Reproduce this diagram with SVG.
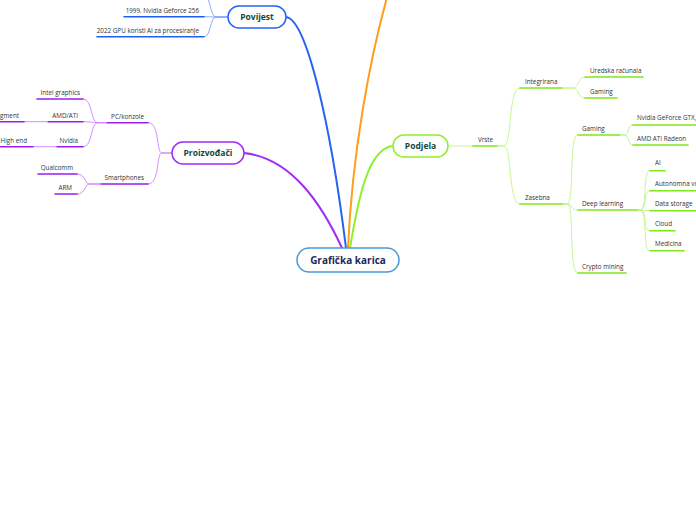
<svg xmlns="http://www.w3.org/2000/svg" width="696" height="520" viewBox="0 0 696 520">
<style>
.bg{fill:#fff}
.node rect{fill:#fff;stroke-width:1.5}
.nt{font-family:"Open Sans","Liberation Sans",sans-serif;font-weight:bold;font-size:8.5px;fill:#15483a;text-anchor:middle}
.ct{font-family:"Open Sans","Liberation Sans",sans-serif;font-weight:bold;font-size:10px;fill:#1c2a5a;text-anchor:middle}
.lt{font-family:"Open Sans","Liberation Sans",sans-serif;font-size:6.3px;fill:#333}
.e{text-anchor:end}
.ul{fill:none;stroke-width:1.6;stroke-linecap:round}
.cv{fill:none;stroke-width:0.9}
.blue .ul{stroke:#1f5ff5}.blue .cv{stroke:#7aa2ff}
.pur .ul{stroke:#9a1ef2}.pur .cv{stroke:#c985ff}
.grn .ul{stroke:#7fe81a}.grn .cv{stroke:#bdf58a}
.main{fill:none;stroke-width:2;stroke-linecap:round}
</style>
<rect class="bg" width="696" height="520"/>
<g id="connectors">
  <path class="main" stroke="#a02bf5" d="M244,153 C292,158 322,205 342,248"/>
  <path class="main" stroke="#2563f5" d="M286,17 C306,19 330,120 346,248"/>
  <path class="main" stroke="#ff9d1f" d="M348,248 C352,160 368,60 392,-20"/>
  <path class="main" stroke="#8ef02a" d="M350,248 C358,200 368,148 393,146"/>
  <g class="blue">
    <path class="cv" d="M228,17 L216,17 C210,17 211,-4 204,-4"/>
    <path class="cv" d="M228,17 L216,17 C211,17 211,16.7 204,16.7"/>
    <path class="cv" d="M228,17 L216,17 C210,17 211,36.7 204,36.7"/>
    <path class="ul" d="M124,16.7 H204"/>
    <path class="ul" d="M97,36.7 H204"/>
  </g>
  <g class="pur">
    <path class="cv" d="M172,153 L162,153 C156,153 160,122.7 148,122.7"/>
    <path class="cv" d="M172,153 L162,153 C156,153 160,184 148,184"/>
    <path class="ul" d="M107,122.7 H148"/>
    <path class="ul" d="M101,184 H148"/>
    <path class="cv" d="M107,122.7 L98,122.7 C90,122.7 93,99 83,99"/>
    <path class="cv" d="M107,122.7 L98,122.7 C92,122.7 92,121.7 83,121.7"/>
    <path class="cv" d="M107,122.7 L98,122.7 C90,122.7 93,146.7 83,146.7"/>
    <path class="cv" d="M101,184 L90,184 C84,184 86,174 77,174"/>
    <path class="cv" d="M101,184 L90,184 C84,184 86,194 77,194"/>
    <path class="ul" d="M37,99 H83"/>
    <path class="ul" d="M48,121.7 H83"/>
    <path class="ul" d="M57,146.7 H83"/>
    <path class="ul" d="M38,174 H77"/>
    <path class="ul" d="M55,194 H77"/>
    <path class="cv" d="M48,121.7 H24"/>
    <path class="ul" d="M-2,121.7 H24"/>
    <path class="cv" d="M57,146.7 H33"/>
    <path class="ul" d="M-2,146.7 H33"/>
  </g>
  <g class="grn">
    <path class="cv" d="M448,146 H473"/>
    <path class="ul" d="M473,146 H497"/>
    <path class="cv" d="M497,146 L504,146 C512,146 508,88 520,88"/>
    <path class="cv" d="M497,146 L504,146 C512,146 508,204 520,204"/>
    <path class="ul" d="M520,88 H562"/>
    <path class="ul" d="M520,204 H563"/>
    <path class="cv" d="M562,88 L572,88 C580,88 577,77 585,77"/>
    <path class="cv" d="M562,88 L572,88 C580,88 577,98 585,98"/>
    <path class="ul" d="M585,77 H643"/>
    <path class="ul" d="M585,98 H617"/>
    <path class="cv" d="M563,204 L567,204 C575,204 568,135 578,135"/>
    <path class="cv" d="M563,204 L567,204 C573,204 570,210 578,210"/>
    <path class="cv" d="M563,204 L567,204 C575,204 568,273 578,273"/>
    <path class="ul" d="M578,135 H620"/>
    <path class="ul" d="M578,210 H638"/>
    <path class="ul" d="M578,273 H626"/>
    <path class="cv" d="M620,135 L624,135 C630,135 627,125 633,125"/>
    <path class="cv" d="M620,135 L624,135 C630,135 627,145 633,145"/>
    <path class="ul" d="M633,125 H698"/>
    <path class="ul" d="M633,145 H688"/>
    <path class="cv" d="M638,210 L640,210 C648,210 642,170.7 650,170.7"/>
    <path class="cv" d="M638,210 L640,210 C648,210 642,190.7 650,190.7"/>
    <path class="cv" d="M638,210 L650,210.7"/>
    <path class="cv" d="M638,210 L640,210 C648,210 642,230.7 650,230.7"/>
    <path class="cv" d="M638,210 L640,210 C648,210 642,250.7 650,250.7"/>
    <path class="ul" d="M650,170.7 H665"/>
    <path class="ul" d="M650,190.7 H698"/>
    <path class="ul" d="M650,210.7 H698"/>
    <path class="ul" d="M650,230.7 H675"/>
    <path class="ul" d="M650,250.7 H684"/>
  </g>
</g>
<g id="central" class="node"><rect x="297" y="248" width="102" height="24" rx="12" stroke="#4a9ad8"/><text class="ct" x="348" y="264">Grafička karica</text></g>
<g id="povijest" class="node"><rect x="228" y="6" width="58" height="22" rx="11" stroke="#2563f5"/><text class="nt" x="257" y="20">Povijest</text></g>
<g id="proizvodaci" class="node"><rect x="172" y="142" width="72" height="22" rx="11" stroke="#a02bf5"/><text class="nt" x="208" y="156">Proizvođači</text></g>
<g id="podjela" class="node"><rect x="393" y="135" width="55" height="22" rx="11" stroke="#8ef02a"/><text class="nt" x="420.5" y="149">Podjela</text></g>
<g id="leaves">
  <g id="n1999"><text class="lt e" x="199" y="13">1999. Nvidia Geforce 256</text></g>
  <g id="n2022"><text class="lt e" x="199" y="33">2022 GPU koristi AI za procesiranje</text></g>
  <g id="pc"><text class="lt e" x="144" y="119">PC/konzole</text></g>
  <g id="smart"><text class="lt e" x="144" y="180">Smartphones</text></g>
  <g id="intel"><text class="lt e" x="80" y="95">Intel graphics</text></g>
  <g id="amd"><text class="lt e" x="78" y="118">AMD/ATI</text></g>
  <g id="segment"><text class="lt e" x="19" y="118">segment</text></g>
  <g id="nvidia"><text class="lt e" x="78" y="143">Nvidia</text></g>
  <g id="highend"><text class="lt e" x="27" y="143">High end</text></g>
  <g id="qualcomm"><text class="lt e" x="73" y="170">Qualcomm</text></g>
  <g id="arm"><text class="lt e" x="72" y="190">ARM</text></g>
  <g id="vrste"><text class="lt" x="478" y="142">Vrste</text></g>
  <g id="integrirana"><text class="lt" x="525" y="84">Integrirana</text></g>
  <g id="zasebna"><text class="lt" x="525" y="200">Zasebna</text></g>
  <g id="uredska"><text class="lt" x="590" y="73">Uredska računala</text></g>
  <g id="gaming1"><text class="lt" x="590" y="94">Gaming</text></g>
  <g id="gaming2"><text class="lt" x="582" y="131">Gaming</text></g>
  <g id="deep"><text class="lt" x="582" y="206">Deep learning</text></g>
  <g id="crypto"><text class="lt" x="582" y="269">Crypto mining</text></g>
  <g id="gtx"><text class="lt" x="637" y="120">Nvidia GeForce GTX,</text></g>
  <g id="radeon"><text class="lt" x="637" y="141">AMD ATI Radeon</text></g>
  <g id="ai"><text class="lt" x="655" y="165">AI</text></g>
  <g id="auto"><text class="lt" x="655" y="186">Autonomna vozila</text></g>
  <g id="data"><text class="lt" x="655" y="206">Data storage</text></g>
  <g id="cloud"><text class="lt" x="655" y="226">Cloud</text></g>
  <g id="medicina"><text class="lt" x="655" y="246">Medicina</text></g>
</g>
</svg>
